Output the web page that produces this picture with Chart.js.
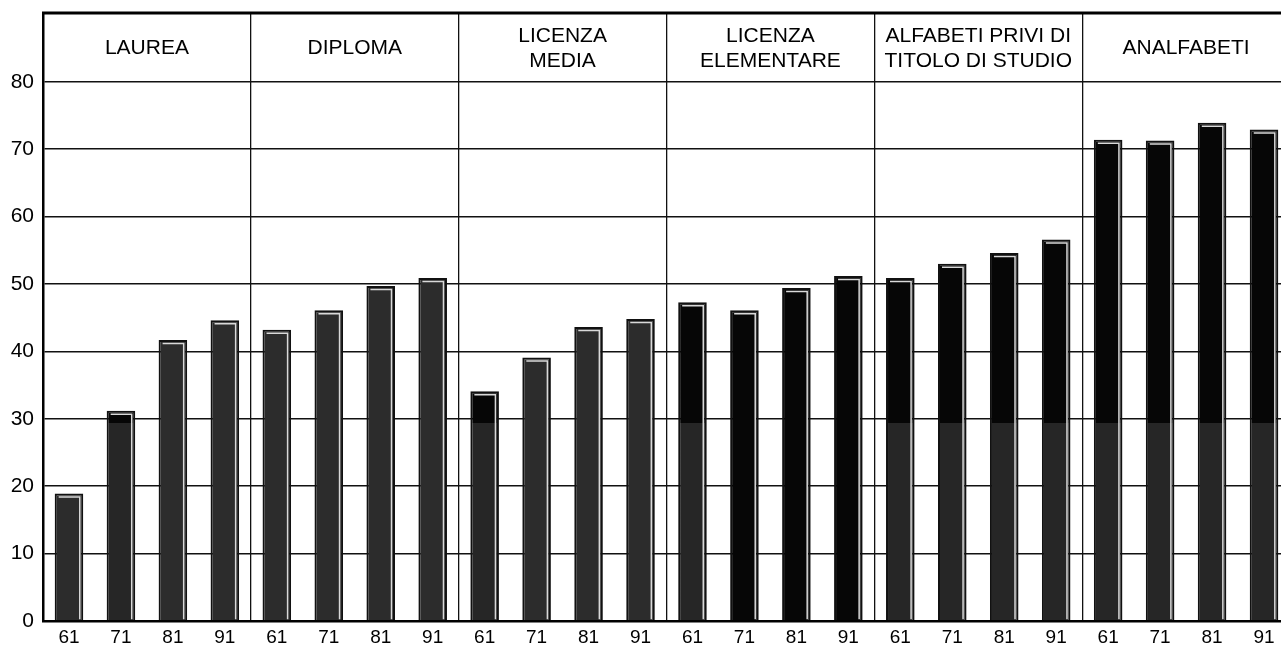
<!DOCTYPE html>
<html>
<head>
<meta charset="utf-8">
<script src="https://cdn.jsdelivr.net/npm/chart.js@4/dist/chart.umd.min.js"></script>
<style>
  body { margin: 0; overflow: hidden; background: #fff; }
  #wrap { width: 1300px; height: 653px; position: relative; }
</style>
</head>
<body>
<div id="wrap"><canvas id="chart"></canvas></div>
<script>
// census years (repeated in each group) and education groups
const years = ["61", "71", "81", "91"];
const groups = [
  "LAUREA",
  "DIPLOMA",
  "LICENZA\nMEDIA",
  "LICENZA\nELEMENTARE",
  "ALFABETI PRIVI DI\nTITOLO DI STUDIO",
  "ANALFABETI",
];

// values per group, 1961..1991
const laurea = [18.9, 31.2, 41.7, 44.6];
const diploma = [43.2, 46.1, 49.7, 50.9];
const licenzaMedia = [34.1, 39.1, 43.6, 44.8];
const licenzaElementare = [47.3, 46.1, 49.4, 51.2];
const alfabeti = [50.9, 53.0, 54.6, 56.6];
const analfabeti = [71.4, 71.3, 73.9, 72.9];

const yTicks = [0, 10, 20, 30, 40, 50, 60, 70, 80];

const labels = groups.flatMap(() => years);
const values = [laurea, diploma, licenzaMedia, licenzaElementare, alfabeti, analfabeti].flat();

// print tone of each bar: g = grey, b = black, s = black top over grey base
const tones = [
  "g", "s", "g", "g",
  "g", "g", "g", "g",
  "s", "g", "g", "g",
  "s", "b", "b", "b",
  "s", "s", "s", "s",
  "s", "s", "s", "s",
];
const GREY = "#2c2c2c";
const BLACK = "#060606";
const SPLIT_AT = 29.4;

function barFill(c) {
  const chart = c.chart;
  const t = tones[c.dataIndex];
  if (t === "g") return GREY;
  if (t === "b") return BLACK;
  const y = chart.scales.y;
  if (!y || !chart.chartArea) return BLACK;
  const py = y.getPixelForValue(SPLIT_AT);
  const g = chart.ctx.createLinearGradient(0, 0, 0, chart.height);
  const f = Math.min(Math.max(py / chart.height, 0), 1);
  g.addColorStop(0, BLACK);
  g.addColorStop(f, BLACK);
  g.addColorStop(f, "#262626");
  g.addColorStop(1, "#262626");
  return g;
}

const frame = {
  id: "frame",
  afterDatasetsDraw(chart) {
    const ctx = chart.ctx;
    // light highlight along top and right of each bar
    ctx.save();
    ctx.strokeStyle = "#d9d9d9";
    ctx.lineWidth = 1.5;
    chart.getDatasetMeta(0).data.forEach((bar) => {
      const l = bar.x - bar.width / 2;
      const r = bar.x + bar.width / 2;
      ctx.beginPath();
      ctx.moveTo(l + 4, bar.y + 3.5);
      ctx.lineTo(r - 3.5, bar.y + 3.5);
      ctx.lineTo(r - 3.5, bar.base - 1);
      ctx.stroke();
    });
    ctx.restore();
  },
  afterDraw(chart) {
    const ctx = chart.ctx;
    const a = chart.chartArea;
    const xs = chart.scales.x;
    const ys = chart.scales.y;
    ctx.save();
    ctx.strokeStyle = "#000";
    ctx.lineWidth = 3;
    ctx.beginPath();
    ctx.moveTo(a.left - 1, a.top);
    ctx.lineTo(a.right, a.top);
    ctx.stroke();

    ctx.fillStyle = "#000";
    ctx.font = "21px 'Liberation Sans', Arial, sans-serif";
    ctx.textAlign = "center";
    ctx.textBaseline = "middle";
    const cy = (ys.getPixelForValue(80) + a.top) / 2 + 1;
    groups.forEach((name, i) => {
      const cx = (xs.getPixelForValue(i * 4) + xs.getPixelForValue(i * 4 + 3)) / 2;
      const lines = name.split("\n");
      const lh = 25;
      lines.forEach((ln, k) => {
        ctx.fillText(ln, cx, cy + (k - (lines.length - 1) / 2) * lh);
      });
    });
    ctx.restore();
  },
};

new Chart(document.getElementById("chart"), {
  type: "bar",
  data: {
    labels: labels,
    datasets: [
      {
        data: values,
        backgroundColor: barFill,
        borderColor: "#111",
        borderWidth: 2,
        borderSkipped: "bottom",
        categoryPercentage: 1,
        barPercentage: 0.55,
      },
    ],
  },
  options: {
    responsive: true,
    maintainAspectRatio: false,
    animation: false,
    layout: { padding: { top: 13, right: 10, left: 0, bottom: 0 } },
    plugins: { legend: { display: false }, tooltip: { enabled: false } },
    scales: {
      x: {
        afterFit: (s) => { s.height = 32; },
        grid: {
          offset: true,
          drawTicks: false,
          color: (c) => (c.index % 4 === 0 ? "#111" : "transparent"),
          lineWidth: 1.3,
        },
        border: { display: true, color: "#000", width: 2.5 },
        ticks: {
          color: "#000",
          padding: 5,
          maxRotation: 0,
          autoSkip: false,
          font: { family: "'Liberation Sans', Arial, sans-serif", size: 19 },
        },
      },
      y: {
        min: 0,
        max: 90.2,
        afterFit: (s) => {
          s.width = 43;
          s.paddingTop = 0;
          s.paddingBottom = 0;
        },
        afterBuildTicks: (s) => {
          s.ticks = yTicks.map((v) => ({ value: v }));
        },
        grid: {
          drawTicks: false,
          color: (c) => (c.tick && c.tick.value > 0 && c.tick.value <= 80 ? "#111" : "transparent"),
          lineWidth: 1.5,
        },
        border: { display: true, color: "#000", width: 2.5 },
        ticks: {
          color: "#000",
          padding: 9,
          font: { family: "'Liberation Sans', Arial, sans-serif", size: 21 },
        },
      },
    },
  },
  plugins: [frame],
});
</script>
</body>
</html>
